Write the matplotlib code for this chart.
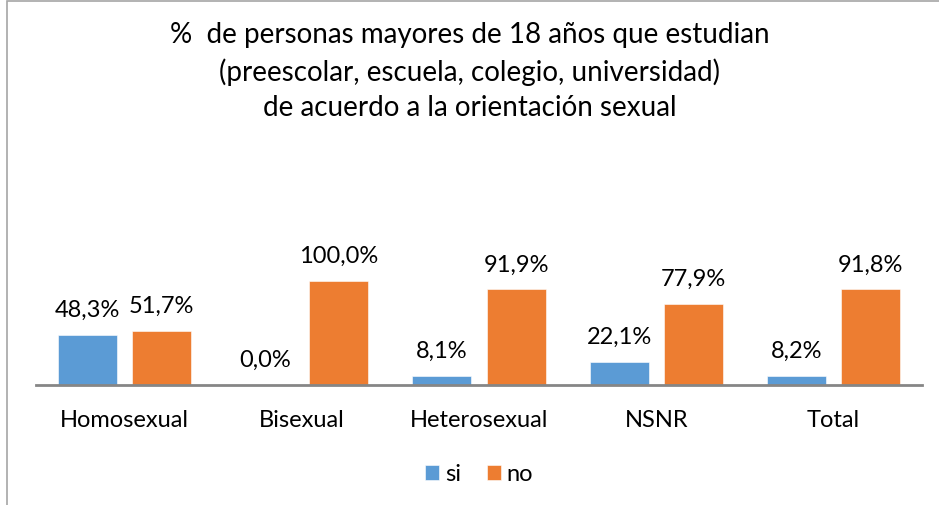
import numpy as np
import matplotlib.pyplot as plt
from matplotlib.patches import Rectangle

plt.rcParams['font.family'] = ['Lato', 'DejaVu Sans']

# datos
categorias = ['Homosexual', 'Bisexual', 'Heterosexual', 'NSNR', 'Total']
si = [48.3, 0.0, 8.1, 22.1, 8.2]
no = [51.7, 100.0, 91.9, 77.9, 91.8]
etiquetas_si = ['48,3%', '0,0%', '8,1%', '22,1%', '8,2%']
etiquetas_no = ['51,7%', '100,0%', '91,9%', '77,9%', '91,8%']

azul = '#5B9BD5'
naranja = '#ED7D31'

fig = plt.figure(figsize=(9.39, 5.06), dpi=100)

# marco del grafico (cortado a la derecha y abajo)
fig.patches.append(Rectangle((7/939, -0.1), 1.1, 0.1 + (506-2)/506, transform=fig.transFigure,
                             fill=False, edgecolor='#A6A6A6', linewidth=1.2))

ax = fig.add_axes([36/939, (506-385.5)/506, 886/939, 103.5/506])

x = np.arange(len(categorias))
ancho = 0.333
desp = 0.209
b1 = ax.bar(x - desp, si, ancho, color=azul, label='si', edgecolor='white', linewidth=0.4)
b2 = ax.bar(x + desp, no, ancho, color=naranja, label='no', edgecolor='white', linewidth=0.4)

for barras, textos in [(b1, etiquetas_si), (b2, etiquetas_no)]:
    for rect, txt in zip(barras, textos):
        ax.annotate(txt, (rect.get_x() + rect.get_width()/2, rect.get_height()),
                    xytext=(0, 13.7), textcoords='offset points', ha='center', va='baseline',
                    fontsize=17, color='#000000', annotation_clip=False)

ax.set_xlim(-0.5, len(categorias) - 0.5)
ax.set_ylim(0, 100)
ax.set_yticks([])
ax.set_xticks(x)
ax.set_xticklabels(categorias, fontsize=17)
ax.tick_params(axis='x', length=0, pad=18)
for s in ['top', 'right', 'left']:
    ax.spines[s].set_visible(False)
ax.spines['bottom'].set_color('#868686')
ax.spines['bottom'].set_linewidth(2)
ax.patch.set_alpha(0)

titulo = '%  de personas mayores de 18 años que estudian\n(preescolar, escuela, colegio, universidad)\nde acuerdo a la orientación sexual'
fig.text(0.5, 1 - 22/506, titulo, ha='center', va='top', fontsize=20, linespacing=1.45)

fig.legend(handles=[b1, b2], labels=['si', 'no'], loc='center', bbox_to_anchor=(479/939, 1 - 475/506),
           ncol=2, frameon=False, fontsize=17, handlelength=0.6, handleheight=0.6,
           handletextpad=0.25, columnspacing=1.1)

fig.savefig('out.png', dpi=100)
